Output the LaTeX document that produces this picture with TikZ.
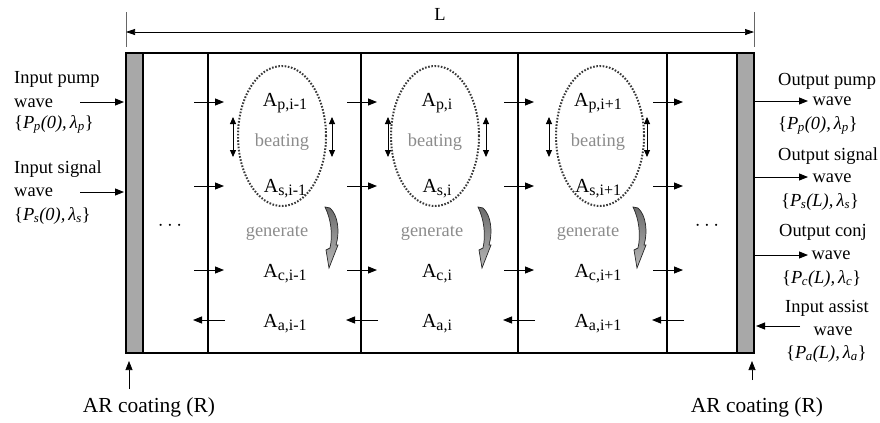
\documentclass[tikz,border=0pt]{standalone}
\usepackage{fontspec}
\setmainfont{Liberation Serif}
\usetikzlibrary{arrows.meta,shapes.geometric}

% amplitude label A with a lowered upright subscript
\newcommand{\amp}[1]{A\raisebox{-3.5bp}{\fontsize{16}{17}\selectfont #1}}
% wave descriptor {P_x(z), lambda_x}
\newcommand{\wdesc}[2]{\{\textit{P\kern-0.5bp\textsubscript{#1}(#2),\,λ\textsubscript{#1}}\}}

\tikzset{
  txt/.style={font=\fontsize{18.5}{20}\selectfont, inner sep=0pt},
  big/.style={font=\fontsize{21.5}{23}\selectfont, inner sep=0pt},
  lab/.style={font=\fontsize{20}{22}\selectfont, inner sep=0pt, anchor=base},
  soft/.style={txt, text=gray!90, anchor=base},
  flow/.style={-{Triangle[length=9bp,width=7bp]}, line width=0.9bp},
  beat/.style={{Triangle[length=7bp,width=6bp]}-{Triangle[length=7bp,width=6bp]}, line width=0.9bp},
  dim/.style={{Triangle[length=9bp,width=6bp]}-{Triangle[length=9bp,width=6bp]}, line width=0.7bp},
  tick/.style={line width=0.6bp, draw=gray!80!black},
  wall/.style={line width=1.4bp},
  coat/.style={fill=gray!68, draw=black, line width=1.4bp},
  ring/.style={ellipse, draw=gray!45!black, line width=2bp, dash pattern=on 1.6bp off 1.6bp,
               minimum width=88bp, minimum height=140bp, inner sep=0pt},
  gen/.style={top color=black!58, bottom color=black!28, draw=gray!30!black, line width=0.7bp},
}

\begin{document}
\begin{tikzpicture}[x=1bp, y=-1bp]
  \useasboundingbox (0,0) rectangle (880,422);

  % overall length
  \coordinate (tl) at (126,12); \coordinate (tlb) at (126,47);
  \coordinate (tr) at (754,12); \coordinate (trb) at (754,47);
  \draw[tick] (tl) -- (tlb);
  \draw[tick] (tr) -- (trb);
  \coordinate (dl) at (126,32); \coordinate (dr) at (754,32);
  \draw[dim] (dl) -- (dr);
  \node[txt, anchor=base] (len) at (440,20) {L};

  % waveguide body and AR-coated facets
  \draw[line width=2.6bp] (126,53) rectangle (754,353);
  \draw[coat] (126,53) rectangle (143,353);
  \draw[coat] (737,53) rectangle (754,353);

  % section walls with forward and backward flows
  \foreach \n/\x in {1/208,2/361,3/518,4/667} {
    \coordinate (wt\n) at (\x,53);
    \coordinate (wb\n) at (\x,353);
    \draw[wall] (wt\n) -- (wb\n);
    \foreach \r/\y in {p/102,s/186,c/270} {
      \coordinate (f\n\r a) at (\x-14,\y);
      \coordinate (f\n\r b) at (\x+16,\y);
      \draw[flow] (f\n\r a) -- (f\n\r b);
    }
    \coordinate (fa\n a) at (\x+17,320);
    \coordinate (fa\n b) at (\x-15,320);
    \draw[flow] (fa\n a) -- (fa\n b);
  }

  % beating rings
  \node[ring] (r1) at (282,136) {};
  \node[ring] (r2) at (435,136) {};
  \node[ring] (r3) at (600,136) {};

  % beating arrows beside each ring
  \foreach \k/\x in {1/233,2/332,3/388,4/486,5/549,6/647} {
    \coordinate (bu\k) at (\x,117);
    \coordinate (bd\k) at (\x,157);
    \draw[beat] (bu\k) -- (bd\k);
  }

  % amplitudes per section
  \node[lab] (ap1) at (285,106) {\amp{p,i-1}};
  \node[lab] (as1) at (285,192) {\amp{s,i-1}};
  \node[lab] (ac1) at (285,277) {\amp{c,i-1}};
  \node[lab] (aa1) at (285,327) {\amp{a,i-1}};
  \node[lab] (ap2) at (437,106) {\amp{p,i}};
  \node[lab] (as2) at (437,192) {\amp{s,i}};
  \node[lab] (ac2) at (437,277) {\amp{c,i}};
  \node[lab] (aa2) at (437,327) {\amp{a,i}};
  \node[lab] (ap3) at (598,106) {\amp{p,i+1}};
  \node[lab] (as3) at (598,192) {\amp{s,i+1}};
  \node[lab] (ac3) at (598,277) {\amp{c,i+1}};
  \node[lab] (aa3) at (598,327) {\amp{a,i+1}};

  % process labels
  \node[soft] (bt1) at (282,146) {beating};
  \node[soft] (bt2) at (435,146) {beating};
  \node[soft] (bt3) at (598,146) {beating};
  \node[soft] (gn1) at (277,236) {generate};
  \node[soft] (gn2) at (432,236) {generate};
  \node[soft] (gn3) at (588,236) {generate};

  % curved "generate" arrows
  \foreach \gx in {325,478,633} {
    \draw[gen, shift={(\gx,207)}]
      (0,0) -- (5,1) .. controls (13,8) and (15,25) .. (11,38)
      -- (13,38) -- (4,61) -- (1,43) -- (5,41)
      .. controls (8,28) and (6,12) .. (0,0) -- cycle;
  }

  % omitted sections
  \node[font=\fontsize{20}{22}\selectfont, inner sep=0pt] (dots1) at (170,226) {$\cdots$};
  \node[font=\fontsize{20}{22}\selectfont, inner sep=0pt] (dots2) at (707,226) {$\cdots$};

  % input side
  \node[txt, anchor=base west] (ip1) at (14,83) {Input pump};
  \node[txt, anchor=base west] (ip2) at (14,107) {wave};
  \node[txt, anchor=base west] (ip3) at (14,128) {\wdesc{p}{0}};
  \coordinate (ipa) at (80,102); \coordinate (ipb) at (124,102);
  \draw[flow] (ipa) -- (ipb);

  \node[txt, anchor=base west] (is1) at (14,173) {Input signal};
  \node[txt, anchor=base west] (is2) at (14,196) {wave};
  \node[txt, anchor=base west] (is3) at (14,220) {\wdesc{s}{0}};
  \coordinate (isa) at (80,192); \coordinate (isb) at (124,192);
  \draw[flow] (isa) -- (isb);

  % output side
  \node[txt, anchor=base west] (op1) at (778,85) {Output pump};
  \node[txt, anchor=base] (op2) at (832,105) {wave};
  \node[txt, anchor=base west] (op3) at (778,129) {\wdesc{p}{0}};
  \coordinate (opa) at (755,101); \coordinate (opb) at (808,101);
  \draw[flow] (opa) -- (opb);

  \node[txt, anchor=base west] (os1) at (778,160) {Output signal};
  \node[txt, anchor=base] (os2) at (832,182) {wave};
  \node[txt, anchor=base west] (os3) at (781,206) {\wdesc{s}{L}};
  \coordinate (osa) at (755,177); \coordinate (osb) at (808,177);
  \draw[flow] (osa) -- (osb);

  \node[txt, anchor=base west] (oc1) at (779,236) {Output conj};
  \node[txt, anchor=base] (oc2) at (831,259) {wave};
  \node[txt, anchor=base west] (oc3) at (782,283) {\wdesc{c}{L}};
  \coordinate (oca) at (755,255); \coordinate (ocb) at (808,255);
  \draw[flow] (oca) -- (ocb);

  \node[txt, anchor=base west] (ia1) at (785,312) {Input assist};
  \node[txt, anchor=base] (ia2) at (833,335) {wave};
  \node[txt, anchor=base west] (ia3) at (786,358) {\wdesc{a}{L}};
  \coordinate (iaa) at (800,326); \coordinate (iab) at (756,326);
  \draw[flow] (iaa) -- (iab);

  % AR coating callouts
  \node[big, anchor=base] (arl) at (149,412) {AR coating (R)};
  \node[big, anchor=base] (arr) at (757,412) {AR coating (R)};
  \coordinate (arla) at (129,389); \coordinate (arlb) at (129,361);
  \coordinate (arra) at (752,380); \coordinate (arrb) at (752,361);
  \draw[flow, line width=0.7bp] (arla) -- (arlb);
  \draw[flow, line width=0.7bp] (arra) -- (arrb);
\end{tikzpicture}
\end{document}
